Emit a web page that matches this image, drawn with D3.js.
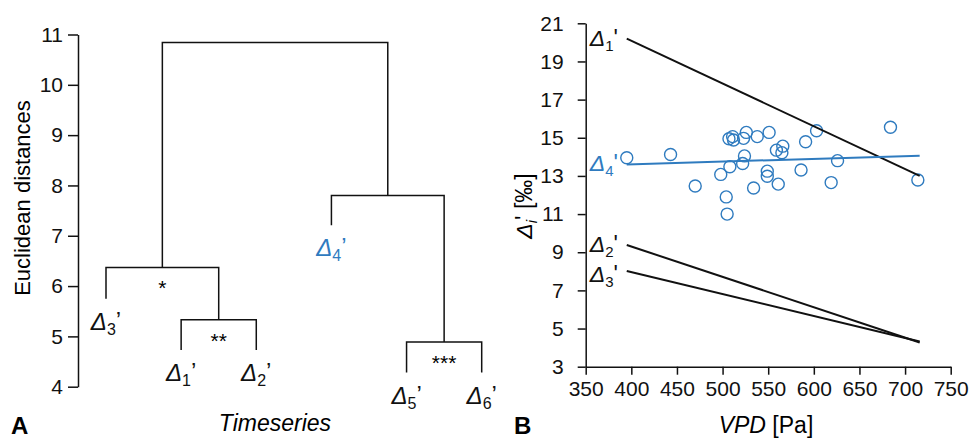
<!DOCTYPE html>
<html>
<head>
<meta charset="utf-8">
<script src="https://cdn.jsdelivr.net/npm/d3@7"></script>
<style>
  body{margin:0;background:#fff;}
  svg{font-family:"Liberation Sans",Arial,sans-serif;}
  .axis path,.axis line{stroke:#111;stroke-width:1.5;}
  .axis text{font-size:21px;fill:#111;font-family:"Liberation Sans",Arial,sans-serif;}
</style>
</head>
<body>
<div id="chart"></div>
<script>
// panel A: dendrogram (leaves in drawing order, merges bottom-up)
const leafNames=["3","1","2","4","5","6"];
const leafEnds=[5.75,4.73,4.73,7.21,4.28,4.28];
const mergeLeft=[1,0,4,3,7];
const mergeRight=[2,6,5,8,9];
const mergeHeights=[5.33,6.37,4.89,7.80,10.84];
const mergeStars=["**","*","***","",""];
const distTicks=[4,5,6,7,8,9,10,11];

// panel B: Δ4' observations vs VPD, and fitted lines
const vpd=[395,443,470,498,504,505,507,508,511,512,522,524,523,526,538,551,559,566,565,591,603,549,549,561,534,586,619,626,684,714];
const delta4=[13.95,14.12,12.47,13.08,11.9,11.0,14.95,13.48,15.06,14.88,13.65,14.05,14.97,15.28,15.06,15.28,14.35,14.56,14.22,14.79,15.37,13.25,12.98,12.57,12.37,13.31,12.65,13.8,15.55,12.79];
const fitNames=["1","2","3","4"];
const fitStartVpd=[395,395,395,395];
const fitEndVpd=[716,716,716,716];
const fitStart=[20.2,9.38,8.02,13.6];
const fitEnd=[13.0,4.27,4.32,14.06];
const vpdTicks=[350,400,450,500,550,600,650,700,750];
const deltaTicks=[3,5,7,9,11,13,15,17,19,21];

const W=971,H=438;
const BLUE="#2f7bbf";

window.onload=()=>{
  const svg=d3.select("#chart").append("svg").attr("width",W).attr("height",H);

  // ---------- A ----------
  const yA=d3.scaleLinear().domain([4,11]).range([386.7,34.5]);
  const xA=d3.scalePoint().domain(d3.range(leafNames.length)).range([106,481.7]);

  svg.append("g").attr("class","axis")
    .attr("transform","translate(78,0)")
    .call(d3.axisLeft(yA).tickValues(distTicks).tickFormat(d3.format("d"))
      .tickSize(10).tickPadding(5).tickSizeOuter(0));

  // node positions
  const nodeX=leafNames.map((d,i)=>xA(i));
  const nodeY=leafEnds.map(v=>yA(v));
  mergeHeights.forEach((h,k)=>{
    nodeX.push((nodeX[mergeLeft[k]]+nodeX[mergeRight[k]])/2);
    nodeY.push(yA(h));
  });

  const dg=svg.append("g").attr("fill","none").attr("stroke","#111").attr("stroke-width",1.5);
  mergeHeights.forEach((h,k)=>{
    const l=mergeLeft[k],r=mergeRight[k],y=yA(h);
    dg.append("path")
      .attr("d",`M${nodeX[l]},${nodeY[l]}V${y}H${nodeX[r]}V${nodeY[r]}`);
    if(mergeStars[k]){
      svg.append("text").attr("x",(nodeX[l]+nodeX[r])/2).attr("y",y+28)
        .attr("text-anchor","middle").attr("font-size",21).text(mergeStars[k]);
    }
  });

  leafNames.forEach((n,i)=>{
    const t=svg.append("text").attr("x",xA(i)).attr("y",yA(leafEnds[i])+31)
      .attr("text-anchor","middle").attr("font-size",24)
      .attr("fill",n==="4"?BLUE:"#111");
    t.append("tspan").attr("font-style","italic").text("Δ");
    t.append("tspan").attr("font-size",16).attr("dy",5).text(n);
    t.append("tspan").attr("dy",-6).text("’");
  });

  svg.append("text").attr("transform","translate(30,198) rotate(-90)")
    .attr("text-anchor","middle").attr("font-size",22).text("Euclidean distances");
  svg.append("text").attr("x",275).attr("y",431).attr("text-anchor","middle")
    .attr("font-size",23).attr("font-style","italic").text("Timeseries");
  svg.append("text").attr("x",11).attr("y",434).attr("font-size",24)
    .attr("font-weight","bold").text("A");

  // ---------- B ----------
  const xB=d3.scaleLinear().domain([350,750]).range([585.7,950.7]);
  const yB=d3.scaleLinear().domain([3,21]).range([366.7,23.3]);

  svg.append("g").attr("class","axis")
    .attr("transform","translate(585.7,0)")
    .call(d3.axisLeft(yB).tickValues(deltaTicks).tickSize(8).tickPadding(14).tickSizeOuter(0));
  svg.append("g").attr("class","axis")
    .attr("transform","translate(0,366.7)")
    .call(d3.axisBottom(xB).tickValues(vpdTicks).tickSize(8).tickPadding(6).tickSizeOuter(0));

  svg.append("g").selectAll("circle").data(vpd).join("circle")
    .attr("cx",d=>xB(d)).attr("cy",(d,i)=>yB(delta4[i])).attr("r",6)
    .attr("fill","none").attr("stroke",BLUE).attr("stroke-width",1.4);

  fitNames.forEach((n,i)=>{
    const col=n==="4"?BLUE:"#111";
    svg.append("line")
      .attr("x1",xB(fitStartVpd[i])).attr("y1",yB(fitStart[i]))
      .attr("x2",xB(fitEndVpd[i])).attr("y2",yB(fitEnd[i]))
      .attr("stroke",col).attr("stroke-width",2);
    const t=svg.append("text").attr("x",xB(fitStartVpd[i])-37)
      .attr("y",yB(fitStart[i])+(n==="3"?11:7))
      .attr("font-size",23).attr("fill",col);
    t.append("tspan").attr("font-style","italic").text("Δ");
    t.append("tspan").attr("font-size",15).attr("dy",5).text(n);
    t.append("tspan").attr("dy",-5).text("'");
  });

  const yl=svg.append("text").attr("transform","translate(532,206) rotate(-90)")
    .attr("text-anchor","middle").attr("font-size",23);
  yl.append("tspan").attr("font-style","italic").text("Δ");
  yl.append("tspan").attr("font-style","italic").attr("font-size",15).attr("dy",5).text("i");
  yl.append("tspan").attr("dy",-5).text("'  [‰]");

  const xl=svg.append("text").attr("x",766).attr("y",433).attr("text-anchor","middle").attr("font-size",23);
  xl.append("tspan").attr("font-style","italic").text("VPD");
  xl.append("tspan").text(" [Pa]");
  svg.append("text").attr("x",514).attr("y",434).attr("font-size",24)
    .attr("font-weight","bold").text("B");
};
</script>
</body>
</html>
